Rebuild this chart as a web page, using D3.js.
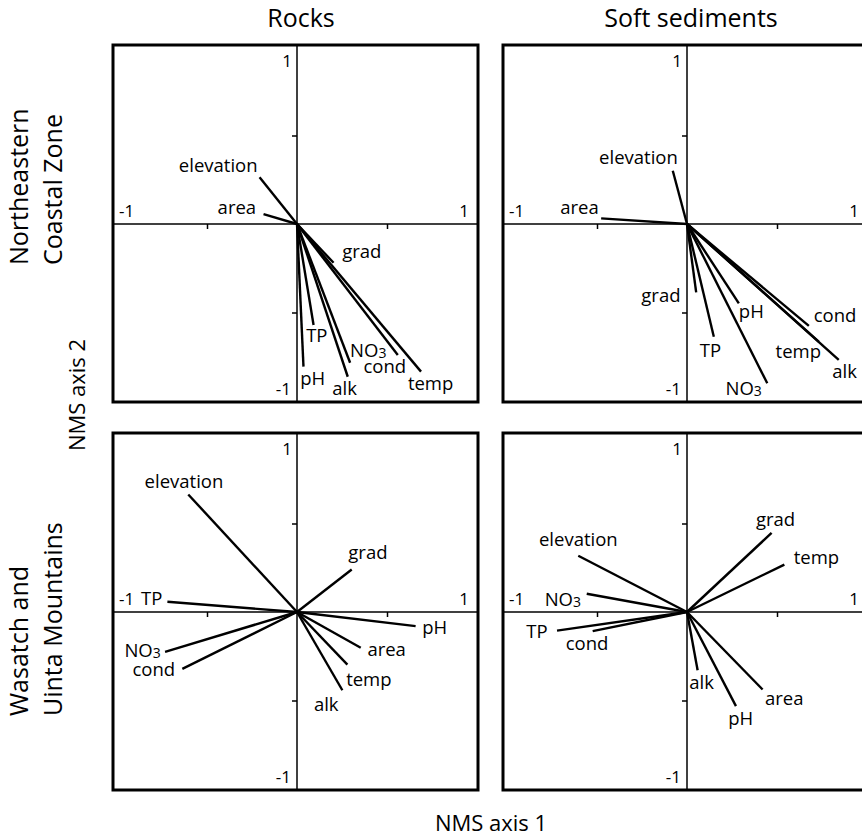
<!DOCTYPE html>
<html>
<head>
<meta charset="utf-8">
<script src="https://cdn.jsdelivr.net/npm/d3@7"></script>
<style>
  body { margin: 0; background: #fff; }
  text { font-family: "Open Sans", "Noto Sans", sans-serif; fill: #000; }
</style>
</head>
<body>
<script>
// environmental variables, same order in every panel
const variables = ["elevation", "area", "grad", "TP", "pH", "alk", "NO3", "cond", "temp"];

const rowNames = [["Northeastern", "Coastal Zone"], ["Wasatch and", "Uinta Mountains"]];
const colNames = ["Rocks", "Soft sediments"];
const tickLabels = ["-1", "1"];

// NMS scores (axis 1, axis 2)
const necRocksAxis1 = [-0.208, -0.186, 0.203, 0.092, 0.036, 0.282, 0.295, 0.560, 0.689];
const necRocksAxis2 = [0.264, 0.056, -0.219, -0.571, -0.806, -0.863, -0.784, -0.740, -0.834];

const necSoftAxis1 = [-0.079, -0.477, 0.051, 0.149, 0.288, 0.843, 0.446, 0.677, 0.732];
const necSoftAxis2 = [0.301, 0.032, -0.386, -0.637, -0.448, -0.768, -0.900, -0.576, -0.665];

const wumRocksAxis1 = [-0.604, 0.354, 0.304, -0.720, 0.659, 0.252, -0.733, -0.637, 0.280];
const wumRocksAxis2 = [0.664, -0.202, 0.240, 0.058, -0.080, -0.442, -0.225, -0.321, -0.297];

const wumSoftAxis1 = [-0.604, 0.420, 0.470, -0.722, 0.272, 0.059, -0.557, -0.524, 0.541];
const wumSoftAxis2 = [0.318, -0.438, 0.447, -0.105, -0.532, -0.329, 0.103, -0.108, 0.268];

// where each label sits, in axis units (x, baseline y, anchor)
const necRocksLabelAt = [[-0.219, 0.295, "end"], [-0.227, 0.056, "end"], [0.251, -0.194, "start"],
  [0.051, -0.665, "start"], [0.018, -0.910, "start"], [0.196, -0.966, "start"],
  [0.295, -0.750, "start"], [0.369, -0.840, "start"], [0.616, -0.937, "start"]];
const necSoftLabelAt = [[-0.051, 0.339, "end"], [-0.490, 0.056, "end"], [-0.036, -0.439, "end"],
  [0.071, -0.750, "start"], [0.288, -0.533, "start"], [0.807, -0.872, "start"],
  [0.214, -0.966, "start"], [0.704, -0.552, "start"], [0.492, -0.759, "start"]];
const wumRocksLabelAt = [[-0.628, 0.702, "middle"], [0.391, -0.250, "start"], [0.285, 0.297, "start"],
  [-0.748, 0.038, "end"], [0.696, -0.127, "start"], [0.094, -0.560, "start"],
  [-0.757, -0.253, "end"], [-0.677, -0.363, "end"], [0.273, -0.419, "start"]];
const wumSoftLabelAt = [[-0.385, 0.372, "end"], [0.433, -0.523, "start"], [0.383, 0.485, "start"],
  [-0.774, -0.146, "end"], [0.229, -0.636, "start"], [0.013, -0.434, "start"],
  [-0.589, 0.033, "end"], [-0.437, -0.212, "end"], [0.593, 0.274, "start"]];

const panels = [
  { row: 0, col: 0, a1: necRocksAxis1, a2: necRocksAxis2, lab: necRocksLabelAt },
  { row: 0, col: 1, a1: necSoftAxis1, a2: necSoftAxis2, lab: necSoftLabelAt },
  { row: 1, col: 0, a1: wumRocksAxis1, a2: wumRocksAxis2, lab: wumRocksLabelAt },
  { row: 1, col: 1, a1: wumSoftAxis1, a2: wumSoftAxis2, lab: wumSoftLabelAt }
];

const w = 862, h = 838;
const panelLeft = [113, 503], panelTop = [45, 433];
const pw = 365, ph = 357;

const svg = d3.select("body")
  .append("svg")
  .attr("width", w)
  .attr("height", h);

svg.append("rect").attr("width", w).attr("height", h).attr("fill", "#fff");

function drawPanel(p) {
  const left = panelLeft[p.col], top = panelTop[p.row];
  const cx = left + 184, cy = top + 179;

  const x = d3.scaleLinear().domain([-1, 1]).range([cx - 180, cx + 180]);
  const y = d3.scaleLinear().domain([-1, 1]).range([cy + 177, cy - 177]);

  const g = svg.append("g");

  // zero lines across the whole panel
  g.append("line")
    .attr("x1", left).attr("x2", left + pw)
    .attr("y1", y(0)).attr("y2", y(0))
    .attr("stroke", "#000").attr("stroke-width", 1.5);
  g.append("line")
    .attr("x1", x(0)).attr("x2", x(0))
    .attr("y1", top).attr("y2", top + ph)
    .attr("stroke", "#000").attr("stroke-width", 1.5);

  // small ticks at +-0.5
  g.append("g")
    .attr("transform", `translate(0,${y(0)})`)
    .call(d3.axisBottom(x).tickValues([-0.5, 0.5]).tickSize(5).tickFormat(""))
    .call(function (a) { a.select(".domain").remove(); })
    .selectAll("line").attr("stroke-width", 1.5);
  g.append("g")
    .attr("transform", `translate(${x(0)},0)`)
    .call(d3.axisLeft(y).tickValues([-0.5, 0.5]).tickSize(5).tickFormat(""))
    .call(function (a) { a.select(".domain").remove(); })
    .selectAll("line").attr("stroke-width", 1.5);

  // -1 / 1 labels
  const tickText = [
    [x(0) - 5, y(1) + 20, "end", tickLabels[1]],
    [x(0) - 6, y(-1) - 6, "end", tickLabels[0]],
    [x(-1) + 2, y(0) - 7, "start", tickLabels[0]],
    [x(1) - 8, y(0) - 7, "end", tickLabels[1]]
  ];
  g.selectAll(".tick-lab")
    .data(tickText)
    .enter()
    .append("text")
    .attr("class", "tick-lab")
    .attr("font-size", 17)
    .attr("x", function (d) { return d[0]; })
    .attr("y", function (d) { return d[1]; })
    .attr("text-anchor", function (d) { return d[2]; })
    .text(function (d) { return d[3]; });

  // vectors
  g.selectAll(".vec")
    .data(variables)
    .enter()
    .append("line")
    .attr("class", "vec")
    .attr("x1", x(0)).attr("y1", y(0))
    .attr("x2", function (d, i) { return x(p.a1[i]); })
    .attr("y2", function (d, i) { return y(p.a2[i]); })
    .attr("stroke", "#000")
    .attr("stroke-width", 2.4)
    .attr("stroke-linecap", "butt");

  // vector labels
  const labels = g.selectAll(".lab")
    .data(variables)
    .enter()
    .append("text")
    .attr("class", "lab")
    .attr("font-size", 18.5)
    .attr("x", function (d, i) { return x(p.lab[i][0]); })
    .attr("y", function (d, i) { return y(p.lab[i][1]); })
    .attr("text-anchor", function (d, i) { return p.lab[i][2]; });

  labels.each(function (d) {
    const t = d3.select(this);
    if (d === "NO3") {
      t.append("tspan").text("NO");
      t.append("tspan").attr("font-size", 14).attr("dy", 1).text("3");
    } else {
      t.text(d);
    }
  });

  // frame
  g.append("rect")
    .attr("x", left).attr("y", top)
    .attr("width", pw).attr("height", ph)
    .attr("fill", "none")
    .attr("stroke", "#000")
    .attr("stroke-width", 3);
}

panels.forEach(drawPanel);

// column titles
svg.selectAll(".col")
  .data(colNames)
  .enter()
  .append("text")
  .attr("class", "col")
  .attr("x", function (d, i) { return panelLeft[i] + 188; })
  .attr("y", 27)
  .attr("text-anchor", "middle")
  .attr("font-size", 25)
  .text(function (d) { return d; });

// row titles, two lines each
rowNames.forEach(function (lines, r) {
  const yStart = [265, 716][r];
  lines.forEach(function (s, k) {
    svg.append("text")
      .attr("transform", `translate(${[28, 62][k]},${yStart}) rotate(-90)`)
      .attr("text-anchor", "start")
      .attr("font-size", 25)
      .text(s);
  });
});

// axis titles
svg.append("text")
  .attr("transform", "translate(85,395) rotate(-90)")
  .attr("text-anchor", "middle")
  .attr("font-size", 22)
  .text("NMS axis 2");

svg.append("text")
  .attr("x", 491)
  .attr("y", 831)
  .attr("text-anchor", "middle")
  .attr("font-size", 22)
  .text("NMS axis 1");
</script>
</body>
</html>
